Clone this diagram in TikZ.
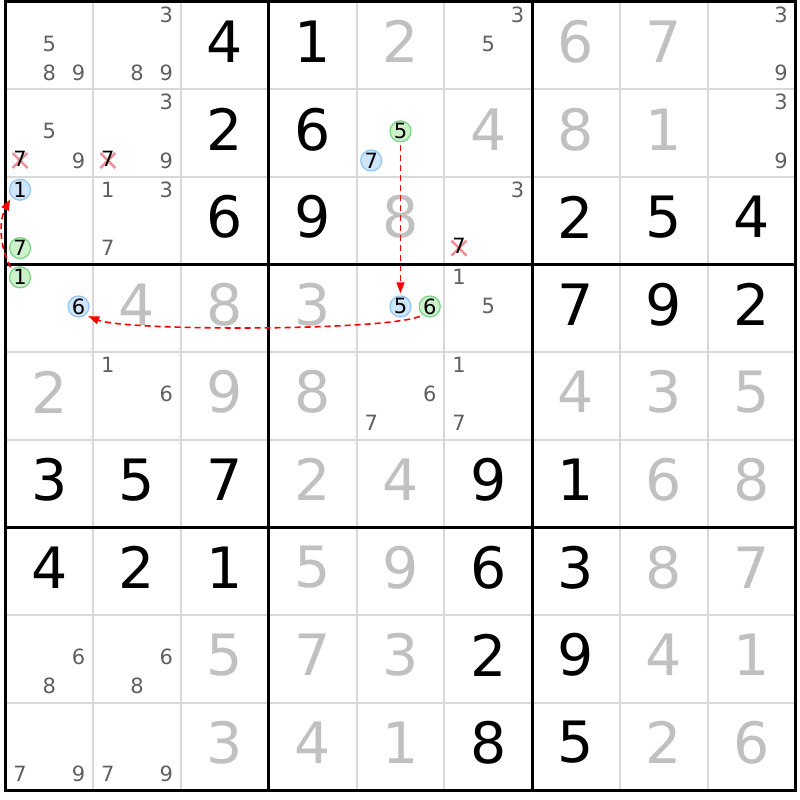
\documentclass[tikz,border=0pt]{standalone}
\usepackage{fontspec}
\setmainfont{DejaVu Sans}
\usetikzlibrary{arrows.meta}
\definecolor{thingrid}{RGB}{216,216,216}
\definecolor{candgray}{RGB}{95,95,100}
\definecolor{solvedgray}{RGB}{192,192,192}
\definecolor{bluefill}{RGB}{206,229,251}
\definecolor{blueline}{RGB}{150,198,242}
\definecolor{greenfill}{RGB}{204,242,204}
\definecolor{greenline}{RGB}{128,212,138}
\definecolor{crossred}{RGB}{242,140,150}
\definecolor{linkred}{RGB}{255,0,0}
\begin{document}
\begin{tikzpicture}[x=87.8pt,y=-87.6pt,
	given/.style={font=\fontsize{57}{57}\selectfont,text=black,inner sep=0pt,yshift=4pt},
	solved/.style={given,text=solvedgray},
	cand/.style={font=\fontsize{21}{21}\selectfont,text=candgray,inner sep=0pt,yshift=2pt},
	bluecand/.style={cand,text=black,circle,draw=blueline,fill=bluefill,line width=1.3pt,minimum size=21pt},
	greencand/.style={bluecand,draw=greenline,fill=greenfill},
	strike/.style={crossred,line width=2.4pt},
	link/.style={linkred,line width=1.6pt,dash pattern=on 6pt off 4pt,-{Triangle[length=11pt,width=8pt]}}]
	\useasboundingbox (-0.0615,-0.0217) rectangle (9.050,9.111);
	\foreach \i in {1,2,4,5,7,8} {
		\draw [thingrid,line width=2pt] (\i,0) -- (\i,9);
		\draw [thingrid,line width=2pt] (0,\i) -- (9,\i);
	}
	\foreach \i in {3,6} {
		\draw [line width=3pt] (\i,0) -- (\i,9);
		\draw [line width=3pt] (0,\i) -- (9,\i);
	}
	\draw [line width=3pt] (0,0) rectangle (9,9);
	\foreach \c/\r/\d in {3/1/4,4/1/1,3/2/2,4/2/6,3/3/6,4/3/9,7/3/2,8/3/5,9/3/4,7/4/7,8/4/9,9/4/2,
		1/6/3,2/6/5,3/6/7,6/6/9,7/6/1,1/7/4,2/7/2,3/7/1,6/7/6,7/7/3,6/8/2,7/8/9,6/9/8,7/9/5}
		\node [given] at (\c-0.5,\r-0.5) {\d};
	\foreach \c/\r/\d in {5/1/2,7/1/6,8/1/7,6/2/4,7/2/8,8/2/1,5/3/8,2/4/4,3/4/8,4/4/3,
		1/5/2,3/5/9,4/5/8,7/5/4,8/5/3,9/5/5,4/6/2,5/6/4,8/6/6,9/6/8,4/7/5,5/7/9,8/7/8,9/7/7,
		3/8/5,4/8/7,5/8/3,8/8/4,9/8/1,3/9/3,4/9/4,5/9/1,8/9/2,9/9/6}
		\node [solved] at (\c-0.5,\r-0.5) {\d};
	\foreach \c/\r/\ds in {1/1/{5,8,9},2/1/{3,8,9},6/1/{3,5},9/1/{3,9},1/2/{5,9},2/2/{3,9},9/2/{3,9},
		2/3/{1,3,7},6/3/{3},6/4/{1,5},2/5/{1,6},5/5/{6,7},6/5/{1,7},1/8/{6,8},2/8/{6,8},1/9/{7,9},2/9/{7,9}}
		\foreach \d in \ds {
			\pgfmathsetmacro\cx{\c-1+(2*mod(\d-1,3)+1)/6}
			\pgfmathsetmacro\cy{\r-1+(2*floor((\d-1)/3)+1)/6}
			\node [cand] at (\cx,\cy) {\d};
		}
	\foreach \c/\r in {1/2,2/2,6/3} {
		\coordinate (x\c\r) at ([yshift=2pt]\c-0.8333,\r-0.1667);
		\draw [strike] ([shift={(-7.5pt,-7.5pt)}]x\c\r) -- ([shift={(7.5pt,7.5pt)}]x\c\r)
			([shift={(-7.5pt,7.5pt)}]x\c\r) -- ([shift={(7.5pt,-7.5pt)}]x\c\r);
		\node [cand,text=black,yshift=0pt] at (x\c\r) {7};
	}
	\node [bluecand] (b7) at (4.1667,1.8333) {7};
	\node [greencand] (g5) at (4.5,1.5) {5};
	\node [bluecand] (b1) at (0.1667,2.1667) {1};
	\node [greencand] (g7) at (0.1667,2.8333) {7};
	\node [greencand] (g1) at (0.1667,3.1667) {1};
	\node [bluecand] (b6) at (0.8333,3.5) {6};
	\node [bluecand] (b5) at (4.5,3.5) {5};
	\node [greencand] (g6) at (4.8333,3.5) {6};
	\draw [link,shorten <=2.5pt,shorten >=2pt] (g5) -- (b5);
	\draw [link] ([shift={(-2pt,-2pt)}]g6.south west) .. controls +(-0.42,0.17) and +(0.42,0.17) .. ([shift={(1.8pt,-1.8pt)}]b6.south east);
	\draw [link] ([shift={(-1.5pt,2pt)}]g1.north west) .. controls +(-0.13,-0.25) and +(-0.13,0.25) .. ([shift={(-2pt,-1.7pt)}]b1.south west);
\end{tikzpicture}
\end{document}
